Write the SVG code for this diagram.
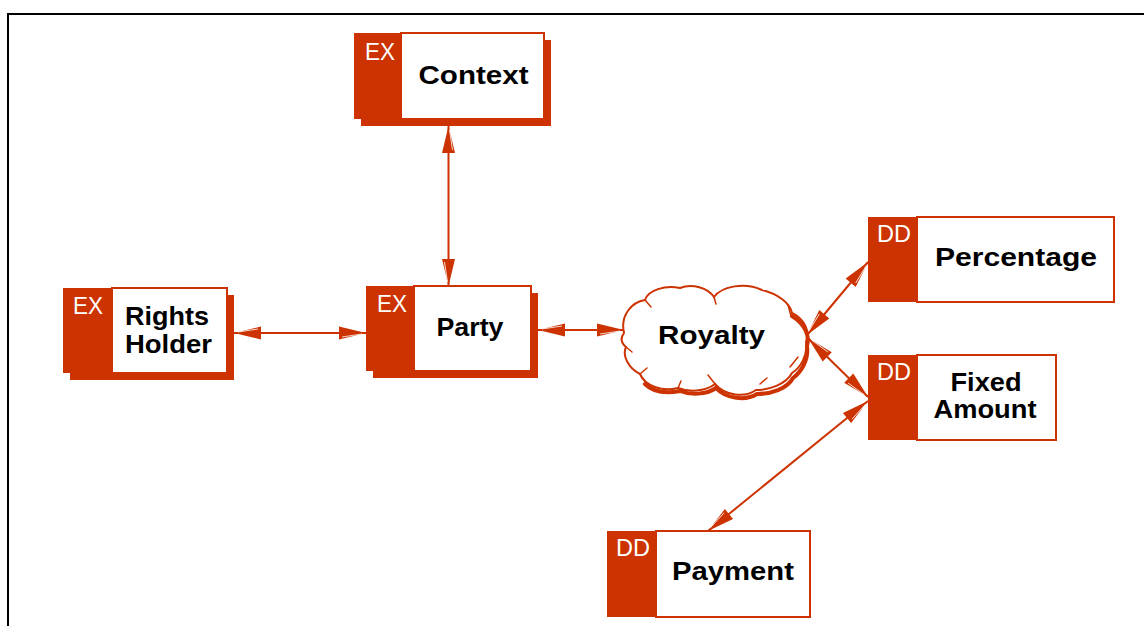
<svg xmlns="http://www.w3.org/2000/svg" width="1144" height="626" viewBox="0 0 1144 626">
<defs>
<style>
.frame{fill:none;stroke:#000;stroke-width:2}
.shadow{fill:#CC3300}
.tag{fill:#CC3300}
.body{fill:#fff;stroke:#CC3300;stroke-width:2}
.code{font-family:"Liberation Sans",Arial,sans-serif;font-size:24px;fill:#fff}
.lbl{font-family:"Liberation Sans",Arial,sans-serif;font-size:25px;font-weight:bold;fill:#000;text-anchor:middle}
.conn{fill:none;stroke:#CC3300;stroke-width:2}
.cloud{fill:#fff;stroke:#CC3300;stroke-width:2}
.cloudsh{fill:none;stroke:#CC3300;stroke-width:4;stroke-linecap:round}
.hair{fill:none;stroke:#CC3300;stroke-width:1.5;stroke-linecap:round}
</style>
<marker id="ah" viewBox="-29 -8 31 16" markerWidth="31" markerHeight="16" markerUnits="userSpaceOnUse" refX="0" refY="0" orient="auto-start-reverse">
<path d="M0,0 L-27,-6.5 L-27,6.5 Z" fill="#CC3300"/>
<path d="M-4,1 L-24,4" stroke="#fff" stroke-width="0.8" fill="none"/>
</marker>
</defs>
<rect width="1144" height="626" fill="#fff"/>
<path class="frame" d="M8,626 V14 H1144"/>

<g id="connectors">
<path class="conn" d="M448.5,126 L448.5,286" marker-start="url(#ah)" marker-end="url(#ah)"/>
<path class="conn" d="M234,333 L366,333" marker-start="url(#ah)" marker-end="url(#ah)"/>
<path class="conn" d="M538,330 L624,330" marker-start="url(#ah)" marker-end="url(#ah)"/>
<path class="conn" d="M807,335 L868,262" marker-start="url(#ah)" marker-end="url(#ah)"/>
<path class="conn" d="M808,338 L868,397" marker-start="url(#ah)" marker-end="url(#ah)"/>
<path class="conn" d="M868,401 L708,531" marker-start="url(#ah)" marker-end="url(#ah)"/>
</g>

<g id="node-context">
<rect class="shadow" x="361" y="40" width="190" height="86"/>
<rect class="body" x="401" y="33" width="143" height="86"/>
<rect class="tag" x="354" y="33" width="47" height="86"/>
<text class="code" x="365" y="60" textLength="30" lengthAdjust="spacingAndGlyphs">EX</text>
<text class="lbl" x="473.5" y="83.5" textLength="110" lengthAdjust="spacingAndGlyphs">Context</text>
</g>

<g id="node-rights-holder">
<rect class="shadow" x="70" y="295" width="164" height="85"/>
<rect class="body" x="112" y="288" width="115" height="85"/>
<rect class="tag" x="63" y="288" width="49" height="85"/>
<text class="code" x="73" y="314" textLength="30" lengthAdjust="spacingAndGlyphs">EX</text>
<text class="lbl" x="167" y="325" textLength="84" lengthAdjust="spacingAndGlyphs">Rights</text>
<text class="lbl" x="168.5" y="353" textLength="87" lengthAdjust="spacingAndGlyphs">Holder</text>
</g>

<g id="node-party">
<rect class="shadow" x="373" y="293" width="165" height="85"/>
<rect class="body" x="414" y="286" width="117" height="85"/>
<rect class="tag" x="366" y="286" width="48" height="85"/>
<text class="code" x="377" y="312" textLength="30" lengthAdjust="spacingAndGlyphs">EX</text>
<text class="lbl" x="470" y="336" textLength="67" lengthAdjust="spacingAndGlyphs">Party</text>
</g>

<g id="node-royalty">
<path class="cloud" d="M624,333 C620,315 632,302 645,300 C648,290 665,285 680,288 C692,283 708,288 714,297 C722,286 745,282 762,290 C778,294 790,303 792,313 C806,320 810,333 806,342 C808,356 800,368 792,373 C786,384 770,390 756,390 C745,398 725,396 715,384 C705,392 688,392 678,388 C662,392 645,386 640,374 C628,368 622,355 626,347 C620,342 621,337 624,333 Z"/>
<path class="cloudsh" d="M792,316 C805,324 810,336 807,346 C809,360 801,372 793,378 C787,389 771,394 757,394 C746,401 726,399 716,388 C706,395 690,395 680,391 C664,394 652,391 645,384"/>
<path class="hair" d="M645,300 L651,307 M714,297 L716,304 M788,305 L791,316 M640,374 L647,368 M715,384 L708,375 M678,388 L681,381 M798,357 L790,367 M626,347 L632,352 M760,384 L767,378"/>
<text class="lbl" x="711.5" y="344" textLength="107" lengthAdjust="spacingAndGlyphs">Royalty</text>
</g>

<g id="node-percentage">
<rect class="body" x="917" y="217" width="197" height="85"/>
<rect class="tag" x="868" y="217" width="49" height="85"/>
<text class="code" x="877" y="242" textLength="34" lengthAdjust="spacingAndGlyphs">DD</text>
<text class="lbl" x="1016" y="266" textLength="162" lengthAdjust="spacingAndGlyphs">Percentage</text>
</g>

<g id="node-fixed-amount">
<rect class="body" x="917" y="355" width="139" height="85"/>
<rect class="tag" x="868" y="355" width="49" height="85"/>
<text class="code" x="877" y="380" textLength="34" lengthAdjust="spacingAndGlyphs">DD</text>
<text class="lbl" x="986" y="391" textLength="71" lengthAdjust="spacingAndGlyphs">Fixed</text>
<text class="lbl" x="985" y="418" textLength="103" lengthAdjust="spacingAndGlyphs">Amount</text>
</g>

<g id="node-payment">
<rect class="body" x="656" y="531" width="154" height="86"/>
<rect class="tag" x="607" y="531" width="49" height="86"/>
<text class="code" x="616" y="556" textLength="34" lengthAdjust="spacingAndGlyphs">DD</text>
<text class="lbl" x="733" y="580" textLength="122" lengthAdjust="spacingAndGlyphs">Payment</text>
</g>
</svg>
